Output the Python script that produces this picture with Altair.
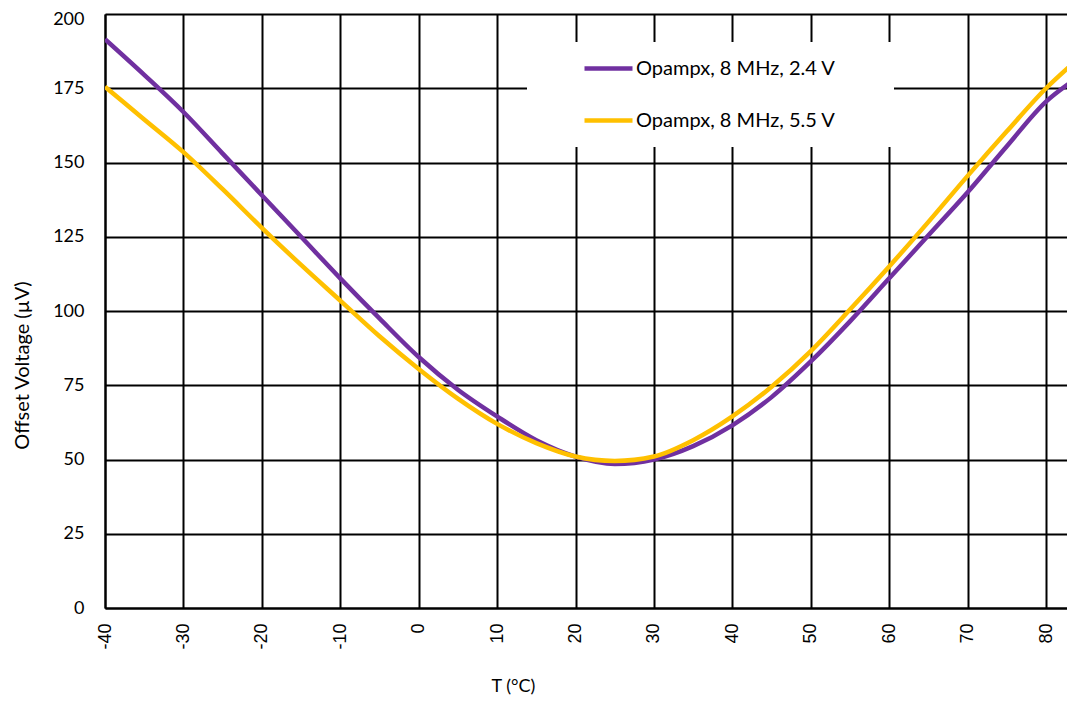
import altair as alt
import pandas as pd

temps = [-40, -35, -30, -25, -20, -15, -10, -5, 0, 5, 10, 15, 20, 25, 30, 35, 40, 45, 50, 55, 60, 65, 70, 75, 80, 83.7]
v_24 = [191.5, 179.5, 167, 153, 139, 125, 111, 97.5, 84.5, 73.5, 64.5, 56.5, 51, 48.5, 50, 54.5, 61.5, 71, 83, 96.5, 111, 125.5, 140, 155.5, 170.5, 178]
v_55 = [175.5, 164.5, 153.5, 141, 128, 115.5, 103.5, 91.5, 80.5, 70.5, 62, 55.5, 51, 49.5, 51, 56.5, 64.5, 74.5, 86.5, 100.5, 115, 130, 145.5, 160.5, 175, 184]
series = ["Opampx, 8 MHz, 2.4 V", "Opampx, 8 MHz, 5.5 V"]
colors = ["#7030A0", "#FFC000"]
x_ticks = [-40, -30, -20, -10, 0, 10, 20, 30, 40, 50, 60, 70, 80]
y_ticks = [0, 25, 50, 75, 100, 125, 150, 175, 200]

rows = []
for t, a in zip(temps, v_24):
    rows.append({"T": t, "V": a, "Series": series[0]})
for t, b in zip(temps, v_55):
    rows.append({"T": t, "V": b, "Series": series[1]})
df = pd.DataFrame(rows)

W, H = 962, 594

x_scale = alt.Scale(domain=[-40, 82.67], nice=False, zero=False)
y_scale = alt.Scale(domain=[0, 200], nice=False)

lines = alt.Chart(df).mark_line(strokeWidth=4.5, interpolate="monotone", clip=True).encode(
    x=alt.X("T:Q", scale=x_scale,
            axis=alt.Axis(values=x_ticks, title="T (°C)", grid=True, gridColor="black", gridWidth=2,
                          gridOpacity=1, domainColor="black", domainWidth=2, ticks=False,
                          labelExpr="toString(datum.value)",
                          labelAngle=-90, labelAlign="right", labelBaseline="middle",
                          labelPadding=15, labelFont="Liberation Sans", labelFontSize=18,
                          labelColor="black", titleFont="Lato", titleFontSize=18,
                          titleFontWeight="normal", titleColor="black",
                          titleX=408, titleY=78, titleBaseline="middle", titleAlign="center")),
    y=alt.Y("V:Q", scale=y_scale,
            axis=alt.Axis(values=y_ticks, title="Offset Voltage (µV)", grid=True, gridColor="black",
                          gridWidth=2, gridOpacity=1, domainColor="black", domainWidth=2, ticks=False,
                          labelPadding=21, labelFont="Lato", labelFontSize=18, labelColor="black",
                          labelOffset={"condition": {"test": "datum.value == 200", "value": 5}, "value": 0},
                          titleFont="Lato", titleFontSize=20, titleFontWeight="normal",
                          titleColor="black", titleX=-83, titleY=351, titleAngle=-90,
                          titleBaseline="middle", titleAlign="center")),
    color=alt.Color("Series:N", scale=alt.Scale(domain=series, range=colors),
                    legend=alt.Legend(title=None, orient="none", legendX=477, legendY=28,
                                      symbolType="stroke", symbolSize=2304, symbolStrokeWidth=4.5,
                                      labelFont="Lato", labelFontSize=20, labelColor="black",
                                      labelOffset=1, rowPadding=15, padding=0, labelLimit=400)),
)

box = alt.Chart(pd.DataFrame({"k": [0]})).mark_rect(fill="white", stroke=None).encode(
    x=alt.value(422), x2=alt.value(789), y=alt.value(28), y2=alt.value(133)
)

chart = alt.layer(box, lines).properties(
    width=W, height=H,
    padding={"left": 97, "top": 6, "right": 0, "bottom": 87},
    autosize=alt.AutoSizeParams(type="none"),
).configure_view(stroke=None).configure(background="white")

chart.save("out.html", embed_options={"renderer": "svg", "actions": False})
